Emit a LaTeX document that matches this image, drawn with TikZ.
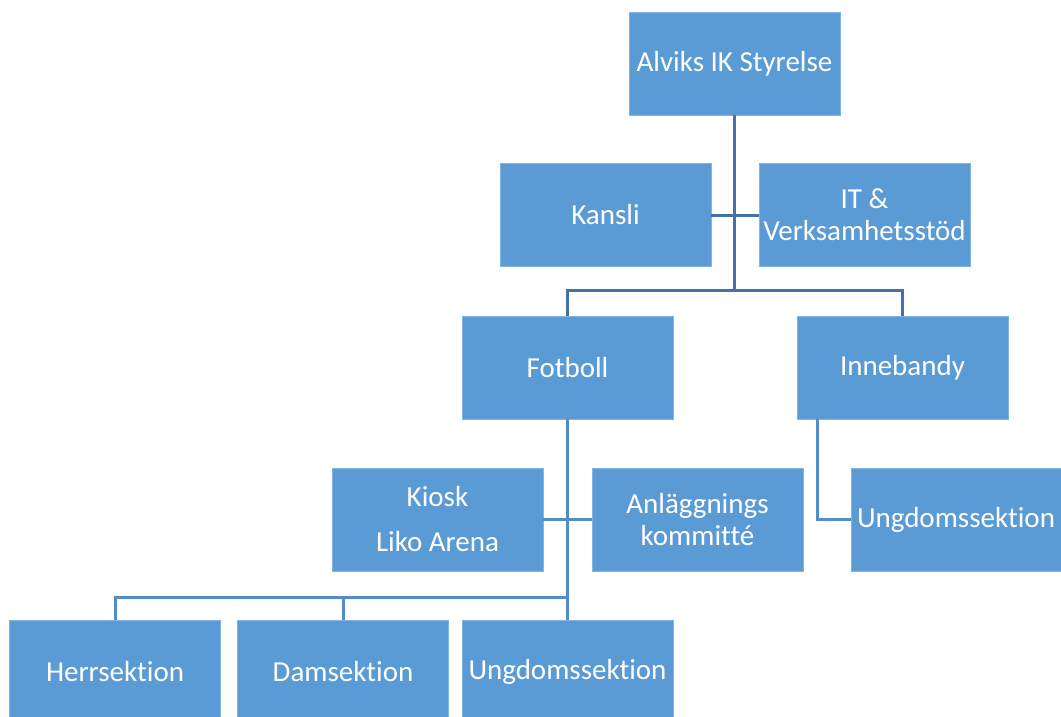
\documentclass[tikz,border=0pt]{standalone}
\usepackage{fontspec}
\setmainfont[Ligatures=NoCommon]{Carlito}
\usetikzlibrary{positioning}
\definecolor{boxblue}{RGB}{91,155,213}
\definecolor{boxedge}{RGB}{130,180,225}
\definecolor{linkdark}{RGB}{68,114,168}
\definecolor{linklight}{RGB}{84,140,200}
\begin{document}
\begin{tikzpicture}[x=1pt,y=-1pt,
	unit/.style={fill=boxblue,draw=boxedge,line width=0.8pt,text=white,minimum width=211pt,minimum height=103pt,inner sep=0pt,align=center,font=\fontsize{29}{32}\selectfont},
	link/.style={draw=linkdark,line width=3pt},
	sublink/.style={draw=linklight,line width=3pt}]
		\useasboundingbox (0,0) rectangle (1061,717);
		
		\node[unit] (styrelse) at (734.5,63.5) {Alviks IK Styrelse};
		\node[unit] (kansli) at (605.5,215) {Kansli};
		\node[unit] (it) at (864.5,215) {IT \&\\Verksamhetsstöd};
		\node[unit] (fotboll) at (567.5,367.5) {Fotboll};
		\node[unit] (inne) at (902.5,367.5) {Innebandy};
		
		\node[unit] (kiosk) at (437.5,519.5) {Kiosk\\[13pt]Liko Arena};
		\node[unit] (anl) at (697.5,519.5) {Anläggnings\\kommitté};
		\node[unit,minimum width=210pt] (ungi) at (956,519.5) {Ungdomssektion};
		
		\node[unit] (herr) at (115,671.5) {Herrsektion};
		\node[unit] (dam) at (343,671.5) {Damsektion};
		\node[unit] (ungf) at (567.5,671.5) {Ungdomssektion};
		
		\coordinate (hub) at (734.5,290.5);
		\coordinate (fhub) at (567.5,597);
		
		\draw[link] (styrelse.south) -- (hub);
		\draw[link] (kansli.east) -- (it.west);
		\draw[link] (fotboll.north) |- (hub) -| (inne.north);
		
		\draw[sublink] (fotboll.south) -- (ungf.north);
		\draw[sublink] (kiosk.east) -- (anl.west);
		\draw[sublink] (herr.north) |- (fhub);
		\draw[sublink] (dam.north) -- (dam.north |- fhub);
		\draw[sublink] ([xshift=21pt]inne.south west) |- (ungi.west);
	\end{tikzpicture}
\end{document}
